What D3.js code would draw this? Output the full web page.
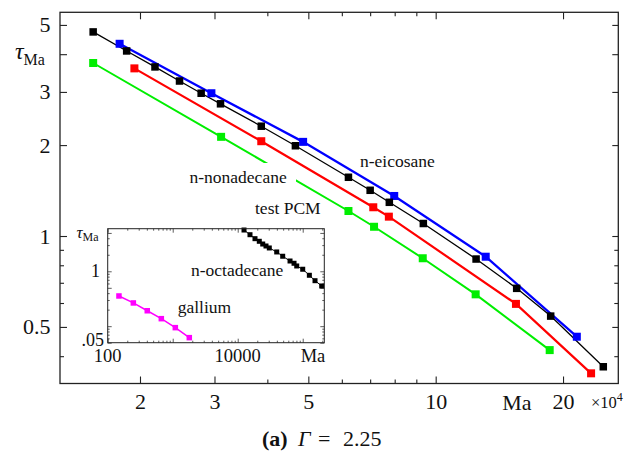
<!DOCTYPE html>
<html><head><meta charset="utf-8">
<script src="https://cdn.jsdelivr.net/npm/d3@7"></script>
<style>
body{margin:0;background:#fff}
svg{display:block}
svg text{fill:#111}
.ff{font-family:"Liberation Serif","Times New Roman",serif}
</style>
</head><body>
<svg id="chart" width="633" height="452"></svg>
<script>
// Main panel: Ma given in units of 1e4, tau_Ma on log axes
const eicosaneMa   = [1.79, 2.95, 4.86, 7.98, 13.13, 21.56];
const eicosaneTau  = [4.33, 2.97, 2.05, 1.357, 0.854, 0.464];
const octadecaneMa  = [1.55, 1.86, 2.17, 2.48, 2.79, 3.10, 3.87, 4.66, 6.22, 7.00, 7.77, 9.35, 12.46, 15.54, 18.7, 24.9];
const octadecaneTau = [4.74, 4.10, 3.63, 3.26, 2.97, 2.74, 2.31, 1.99, 1.565, 1.417, 1.293, 1.10, 0.839, 0.671, 0.543, 0.369];
const testPcmMa   = [1.94, 3.87, 7.12, 7.75, 15.48, 23.3];
const testPcmTau  = [3.59, 2.06, 1.245, 1.159, 0.596, 0.351];
const nonadecaneMa  = [1.55, 3.11, 6.22, 7.15, 9.32, 12.43, 18.6];
const nonadecaneTau = [3.74, 2.13, 1.21, 1.073, 0.844, 0.641, 0.419];

const xMajorTicks = [2, 3, 5, 10, 20];
const xMinorTicks = [4, 6, 7, 8, 9];
const yLabelTicks = [5, 3, 2, 1, 0.5];
const yLongTicks  = [5, 4, 3, 2, 1, 0.5];
const yMinorTicks = [0.9, 0.8, 0.7, 0.6, 0.4];

// Inset: full Ma, log axes
const insetOctMa  = [12500, 15450, 18450, 21480, 24260, 27230, 30610, 39810, 49200, 63800, 73500, 80900, 100000, 126500, 154600, 195900];
const insetOctTau = [5.65, 4.64, 3.93, 3.52, 3.14, 2.89, 2.66, 2.25, 1.88, 1.54, 1.40, 1.25, 1.09, 0.846, 0.674, 0.540];
const galliumMa   = [149, 248, 406, 668, 1097, 1800];
const galliumTau  = [0.355, 0.265, 0.191, 0.137, 0.094, 0.0618];
const insetXLabels = [100, 10000];
const insetYLabels = [1, 0.05];

const svg = d3.select("#chart");

// ---------- main panel ----------
const L = 60, R = 618.3, T = 12.3, B = 383.5;
const x = d3.scaleLog().domain([1.294, 27.02]).range([L, R]);
const y = d3.scaleLog().domain([0.3248, 5.505]).range([B, T]);

function tickAxis(axisFn, scale, values, len, tx, ty, fmt, pad) {
  const a = axisFn(scale).tickValues(values).tickSizeInner(-len).tickSizeOuter(0)
    .tickFormat(fmt || (() => "")).tickPadding(pad || 0);
  const g = svg.append("g").attr("transform", `translate(${tx},${ty})`).call(a)
    .attr("font-family", null);
  g.select(".domain").remove();
  g.selectAll(".tick line").attr("stroke", "#222").attr("stroke-width", 1.1);
  return g;
}

// ticks on all four sides
tickAxis(d3.axisBottom, x, xMajorTicks, 7, 0, B);
tickAxis(d3.axisBottom, x, xMinorTicks, 4, 0, B);
tickAxis(d3.axisTop, x, xMajorTicks, 7, 0, T);
tickAxis(d3.axisTop, x, xMinorTicks, 4, 0, T);
tickAxis(d3.axisLeft, y, yLongTicks, 7, L, 0);
tickAxis(d3.axisLeft, y, yMinorTicks, 4, L, 0);
tickAxis(d3.axisRight, y, yLongTicks, 6, R, 0);
tickAxis(d3.axisRight, y, yMinorTicks, 4, R, 0);

// tick labels
const xl = tickAxis(d3.axisBottom, x, xMajorTicks, 0, 0, B, d => String(d), 10);
xl.selectAll(".tick text").attr("class", "ff").attr("font-size", 22).attr("fill", "#111");
const yl = tickAxis(d3.axisLeft, y, yLabelTicks, 0, L, 0, d => String(d), 9.5);
yl.selectAll(".tick text").attr("class", "ff").attr("font-size", 22).attr("fill", "#111");

svg.append("text").attr("class", "ff").attr("x", x(15.56)).attr("y", 410).attr("text-anchor", "middle")
  .attr("font-size", 22).text("Ma");
const mult = svg.append("text").attr("class", "ff").attr("x", 591).attr("y", 408).attr("font-size", 16.5);
mult.append("tspan").text("×10");
mult.append("tspan").attr("dy", -7).attr("font-size", 12).text("4");

const yt = svg.append("text").attr("class", "ff").attr("x", 15).attr("y", 59);
yt.append("tspan").attr("font-size", 24).attr("font-style", "italic").text("τ");
yt.append("tspan").attr("dy", 6).attr("font-size", 16).text("Ma");

// series: lines first, then square markers
const series = [
  {ma: nonadecaneMa, tau: nonadecaneTau, color: "#00ee00", lw: 2, ms: 8},
  {ma: testPcmMa, tau: testPcmTau, color: "#ff0000", lw: 2.2, ms: 8},
  {ma: eicosaneMa, tau: eicosaneTau, color: "#0000ff", lw: 2.3, ms: 8},
  {ma: octadecaneMa, tau: octadecaneTau, color: "#000000", lw: 1.3, ms: 7.5}
];
const line = d3.line().x(d => x(d[0])).y(d => y(d[1]));
series.forEach(s => {
  const pts = s.ma.map((m, i) => [m, s.tau[i]]);
  svg.append("path").datum(pts).attr("d", line).attr("fill", "none")
    .attr("stroke", s.color).attr("stroke-width", s.lw);
  s.pts = pts;
});
series.forEach(s => {
  svg.append("g").selectAll("rect").data(s.pts).join("rect")
    .attr("x", d => x(d[0]) - s.ms / 2).attr("y", d => y(d[1]) - s.ms / 2)
    .attr("width", s.ms).attr("height", s.ms).attr("fill", s.color);
});

// series labels (n-nonadecane sits on a white patch that cuts the green line)
svg.append("text").attr("class", "ff").attr("x", 360).attr("y", 166.5).attr("font-size", 17.5).text("n-eicosane");
svg.append("rect").attr("x", 187).attr("y", 163).attr("width", 109).attr("height", 27).attr("fill", "#fff");
svg.append("text").attr("class", "ff").attr("x", 189.5).attr("y", 183).attr("font-size", 17.5).text("n-nonadecane");
svg.append("text").attr("class", "ff").attr("x", 255).attr("y", 213.5).attr("font-size", 17.5).text("test PCM");

// frame
svg.append("rect").attr("x", L).attr("y", T).attr("width", R - L).attr("height", B - T)
  .attr("fill", "none").attr("stroke", "#222").attr("stroke-width", 1.3);

// ---------- inset ----------
const iL = 107.7, iR = 324.3, iT = 228.7, iB = 342.7;
const ix = d3.scaleLog().domain([100, 214800]).range([iL, iR]);
const iy = d3.scaleLog().domain([0.05, 5.97]).range([iB, iT]);

svg.append("rect").attr("x", iL).attr("y", iT).attr("width", iR - iL).attr("height", iB - iT)
  .attr("fill", "#fff");

const ixTicks = [], iyTicks = [];
for (let e = 2; e <= 5; e++) for (let k = 1; k <= 9; k++) {
  const v = k * Math.pow(10, e);
  if (v >= 100 && v <= 214800) ixTicks.push(v);
}
for (let e = -2; e <= 0; e++) for (let k = 1; k <= 9; k++) {
  const v = k * Math.pow(10, e);
  if (v >= 0.05 && v <= 5.97) iyTicks.push(+v.toPrecision(3));
}
const ixMajor = ixTicks.filter(v => [100, 1000, 10000, 100000].includes(v));
const ixMinor = ixTicks.filter(v => !ixMajor.includes(v));
const iyMajor = iyTicks.filter(v => [0.05, 0.1, 0.5, 1, 5].includes(v));
const iyMinor = iyTicks.filter(v => !iyMajor.includes(v));

function insetTicks(axisFn, scale, vals, len, tx, ty) {
  const g = svg.append("g").attr("transform", `translate(${tx},${ty})`)
    .call(axisFn(scale).tickValues(vals).tickSizeInner(-len).tickSizeOuter(0).tickFormat(() => ""));
  g.select(".domain").remove();
  g.selectAll(".tick line").attr("stroke", "#333").attr("stroke-width", 0.8);
}
insetTicks(d3.axisBottom, ix, ixMajor, 4, 0, iB);
insetTicks(d3.axisBottom, ix, ixMinor, 2, 0, iB);
insetTicks(d3.axisTop, ix, ixMajor, 4, 0, iT);
insetTicks(d3.axisTop, ix, ixMinor, 2, 0, iT);
insetTicks(d3.axisLeft, iy, iyMajor, 4, iL, 0);
insetTicks(d3.axisLeft, iy, iyMinor, 2, iL, 0);
insetTicks(d3.axisRight, iy, iyMajor, 4, iR, 0);
insetTicks(d3.axisRight, iy, iyMinor, 2, iR, 0);

svg.append("g").selectAll("text").data(insetXLabels).join("text").attr("class", "ff")
  .attr("x", d => ix(d)).attr("y", 362).attr("text-anchor", "middle")
  .attr("font-size", 18.5).text(d => String(d));
svg.append("text").attr("class", "ff").attr("x", 313).attr("y", 362).attr("text-anchor", "middle")
  .attr("font-size", 18.5).text("Ma");
svg.append("g").selectAll("text").data(insetYLabels).join("text").attr("class", "ff")
  .attr("x", d => d === 1 ? 100 : 104).attr("y", d => d === 1 ? iy(d) + 6 : iy(d) + 3)
  .attr("text-anchor", "end")
  .attr("font-size", 18).text(d => d === 1 ? "1" : ".05");
const iyt = svg.append("text").attr("class", "ff").attr("x", 76.5).attr("y", 238);
iyt.append("tspan").attr("font-size", 17).attr("font-style", "italic").text("τ");
iyt.append("tspan").attr("dy", 3).attr("font-size", 12).text("Ma");

const iline = d3.line().x(d => ix(d[0])).y(d => iy(d[1]));
[
  {ma: galliumMa, tau: galliumTau, color: "#ff00ff", lw: 1.5, ms: 5.5},
  {ma: insetOctMa, tau: insetOctTau, color: "#000000", lw: 1, ms: 5}
].forEach(s => {
  const pts = s.ma.map((m, i) => [m, s.tau[i]]);
  svg.append("path").datum(pts).attr("d", iline).attr("fill", "none")
    .attr("stroke", s.color).attr("stroke-width", s.lw);
  svg.append("g").selectAll("rect").data(pts).join("rect")
    .attr("x", d => ix(d[0]) - s.ms / 2).attr("y", d => iy(d[1]) - s.ms / 2)
    .attr("width", s.ms).attr("height", s.ms).attr("fill", s.color);
});
svg.append("text").attr("class", "ff").attr("x", 191).attr("y", 275.5).attr("font-size", 17.5).text("n-octadecane");
svg.append("text").attr("class", "ff").attr("x", 177.7).attr("y", 312.5).attr("font-size", 17.5).text("gallium");

svg.append("rect").attr("x", iL).attr("y", iT).attr("width", iR - iL).attr("height", iB - iT)
  .attr("fill", "none").attr("stroke", "#222").attr("stroke-width", 1);

// ---------- caption ----------
const cap = svg.append("text").attr("class", "ff").attr("y", 446).attr("font-size", 22);
cap.append("tspan").attr("x", 262).attr("font-weight", "bold").text("(a)");
cap.append("tspan").attr("x", 298).attr("font-style", "italic").text("Γ");
cap.append("tspan").attr("x", 318).text("=");
cap.append("tspan").attr("x", 343).text("2.25");
</script>
</body></html>
